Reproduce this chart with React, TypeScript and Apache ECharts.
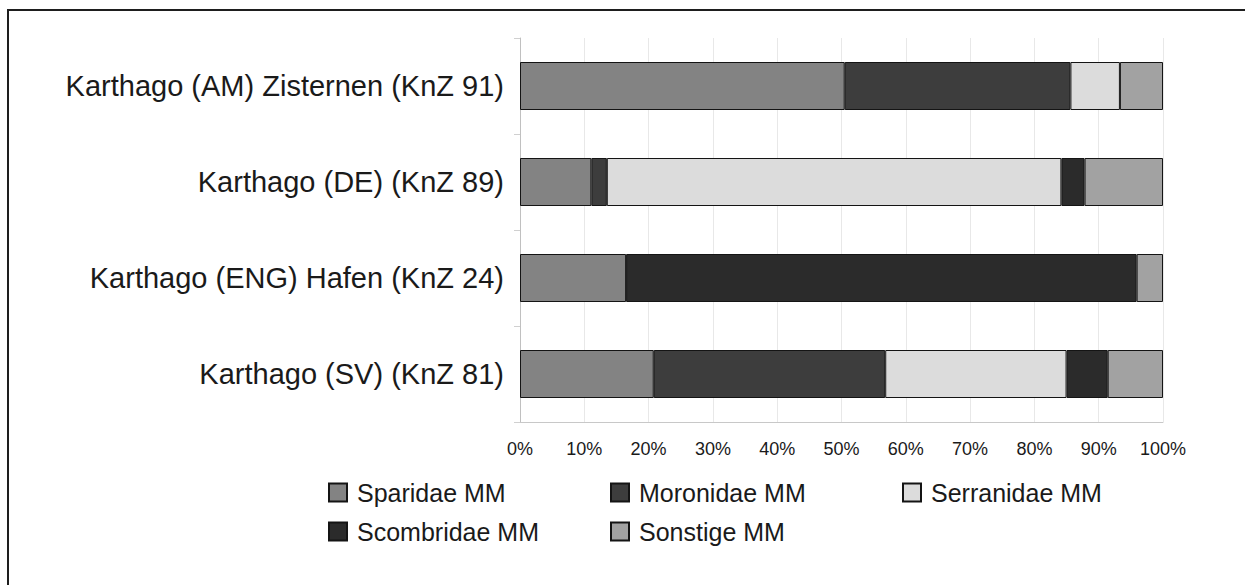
import React, { useEffect, useRef } from "react";
import * as echarts from "echarts";

const categories = [
  "Karthago (AM) Zisternen (KnZ 91)",
  "Karthago (DE) (KnZ 89)",
  "Karthago (ENG) Hafen (KnZ 24)",
  "Karthago (SV) (KnZ 81)",
];
const seriesNames = ["Sparidae MM", "Moronidae MM", "Serranidae MM", "Scombridae MM", "Sonstige MM"];
const sparidae = [50.5, 11.1, 16.5, 20.8];
const moronidae = [35.1, 2.4, 0, 36.0];
const serranidae = [7.7, 70.7, 0, 28.2];
const scombridae = [0, 3.6, 79.4, 6.4];
const sonstige = [6.7, 12.2, 4.1, 8.6];
const colors = ["#838383", "#3d3d3d", "#dcdcdc", "#2b2b2b", "#a2a2a2"];
const xTicks = [0, 10, 20, 30, 40, 50, 60, 70, 80, 90, 100];

export default function App() {
  const ref = useRef<HTMLDivElement>(null);
  useEffect(() => {
    if (!ref.current) return;
    const chart = echarts.init(ref.current, null, { renderer: "svg" });
    const values = [sparidae, moronidae, serranidae, scombridae, sonstige];
    const legendPos = [
      [328, 480],
      [610, 480],
      [902, 480],
      [328, 519],
      [610, 519],
    ];
    chart.setOption({
      animation: false,
      backgroundColor: "#ffffff",
      textStyle: { fontFamily: "Liberation Sans, Arial, sans-serif", color: "#1a1a1a" },
      graphic: [
        {
          type: "polyline",
          shape: { points: [[8, 800], [8, 10], [1400, 10]] },
          style: { fill: "none", stroke: "#1e1e1e", lineWidth: 2 },
          silent: true,
        },
      ],
      grid: { left: 520, right: 1245 - 1163, top: 38, height: 384 },
      xAxis: {
        type: "value",
        min: 0,
        max: 100,
        interval: 10,
        axisLine: { show: true, lineStyle: { color: "#c8c8c8", width: 1 } },
        axisTick: { show: false },
        splitLine: { show: true, lineStyle: { color: "#e8e8e8", width: 1 } },
        axisLabel: {
          formatter: (v: number) => (xTicks.includes(v) ? v + "%" : ""),
          fontSize: 18,
          color: "#1a1a1a",
          margin: 18,
          fontFamily: "Liberation Sans, Arial, sans-serif",
        },
      },
      yAxis: {
        type: "category",
        data: categories,
        inverse: true,
        axisLine: { show: true, lineStyle: { color: "#c0c0c0", width: 1 } },
        axisTick: { show: true, length: 6, lineStyle: { color: "#d0d0d0" } },
        axisLabel: {
          fontSize: 29,
          color: "#1a1a1a",
          margin: 16,
          fontFamily: "Liberation Sans, Arial, sans-serif",
        },
      },
      legend: seriesNames.map((name, i) => ({
        data: [name],
        left: legendPos[i][0],
        top: legendPos[i][1],
        padding: 0,
        icon: "rect",
        itemWidth: 18,
        itemHeight: 18,
        selectedMode: false,
        textStyle: {
          fontSize: 25,
          color: "#1a1a1a",
          fontFamily: "Liberation Sans, Arial, sans-serif",
          padding: [0, 0, 0, 5],
        },
      })),
      series: seriesNames.map((name, i) => ({
        name,
        type: "bar",
        stack: "total",
        barWidth: 48,
        data: values[i].map((v) => (v === 0 ? null : v)),
        itemStyle: { color: colors[i], borderColor: "#141414", borderWidth: 1 },
        emphasis: { disabled: true },
      })),
    });
    return () => chart.dispose();
  }, []);
  return (
    <div
      ref={ref}
      style={{ position: "fixed", left: 0, top: 0, width: 1245, height: 585 }}
    />
  );
}
